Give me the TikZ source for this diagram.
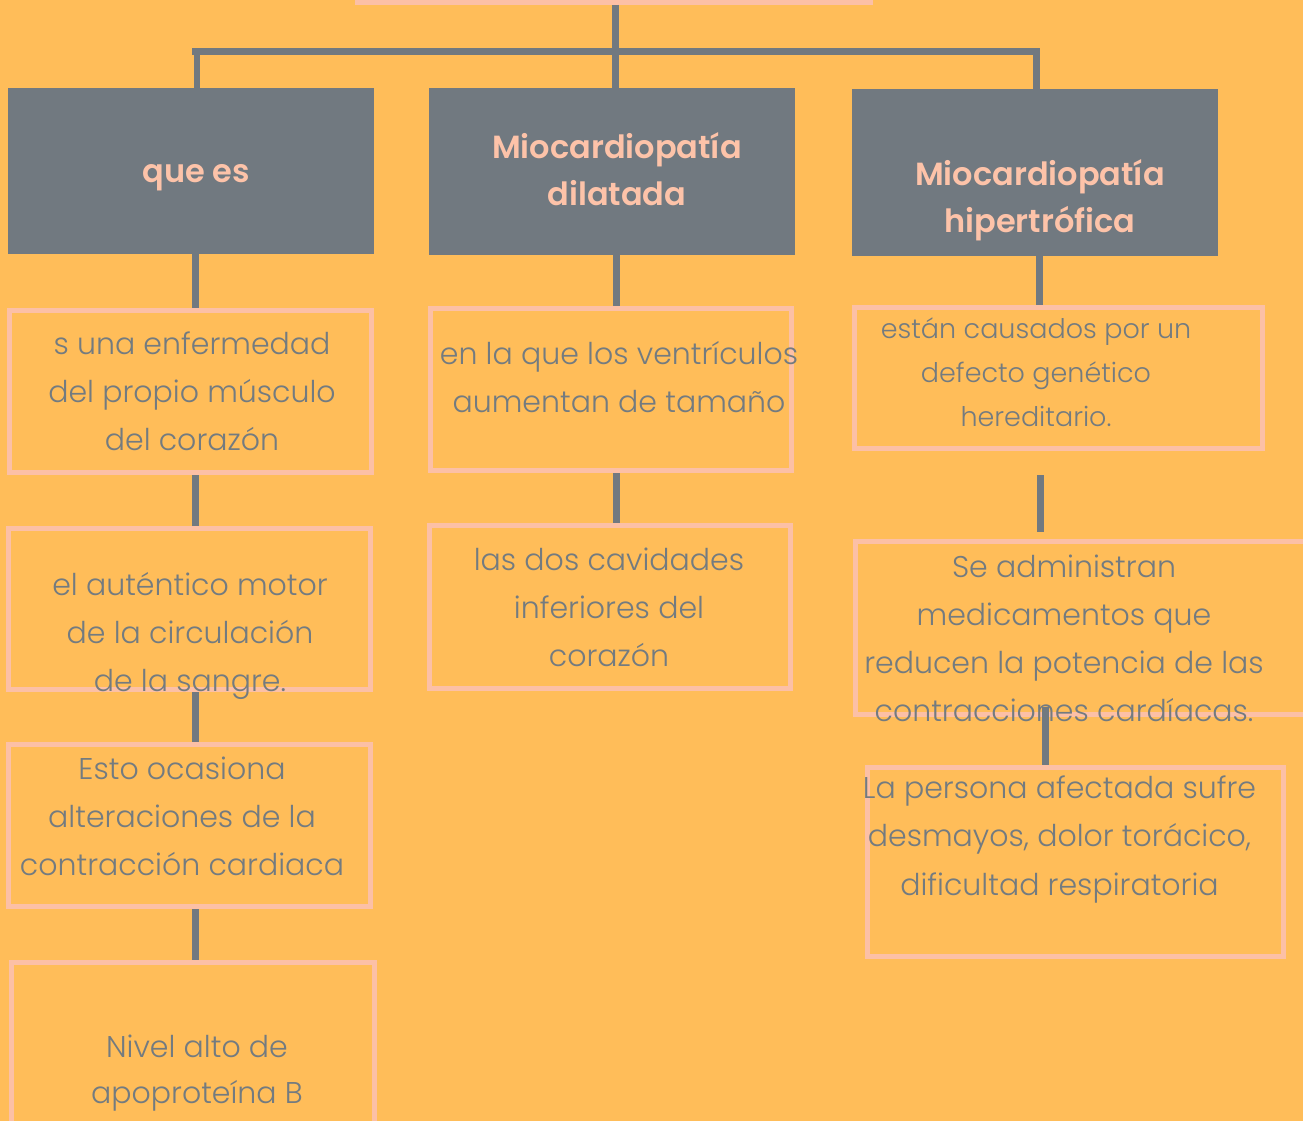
\documentclass[tikz,border=0pt]{standalone}
\usepackage{fontspec}
\setmainfont{Poppins}[UprightFont=* Light, BoldFont=* SemiBold]
\definecolor{bg}{HTML}{FFBD59}
\definecolor{gr}{HTML}{717980}
\definecolor{pk}{HTML}{FCC0A6}
\definecolor{tx}{HTML}{737B80}
\definecolor{hx}{HTML}{FDC3A9}
\begin{document}
\begin{tikzpicture}[x=1pt,y=-1pt,
  hdr/.style={fill=gr, inner sep=0pt, outer sep=0pt, minimum width=366, minimum height=166},
  pbox/.style={draw=pk, line width=5pt, inner sep=0pt},
  htxt/.style={text=hx, font=\fontsize{32}{47}\selectfont\bfseries, align=center, inner sep=0pt, anchor=base},
  btxt/.style={text=tx, font=\fontsize{30}{48}\selectfont, align=center, inner sep=0pt, anchor=base},
  conn/.style={draw=gr, line width=7pt}]
\useasboundingbox (0,0) rectangle (1303,1121);
\fill[bg] (0,0) rectangle (1303,1121);
\clip (0,0) rectangle (1303,1121);

% top box (only its bottom edge shows)
\node[pbox, minimum width=513, minimum height=100] (top) at (614,-47.5) {};

% header boxes
\node[hdr] (h1) at (191,171) {};
\node[hdr, minimum height=167] (h2) at (612,171.5) {};
\node[hdr, minimum height=167] (h3) at (1035,172.5) {};

% pink boxes
\node[pbox, minimum width=362, minimum height=162] (t1) at (190.5,391.5) {};
\node[pbox, minimum width=362, minimum height=161] (t2) at (189.5,609) {};
\node[pbox, minimum width=362, minimum height=162] (t3) at (189.5,825.5) {};
\node[pbox, minimum width=363, minimum height=165] (t4) at (193,1045) {};
\node[pbox, minimum width=361, minimum height=162] (m1) at (611,389.5) {};
\node[pbox, minimum width=361, minimum height=163] (m2) at (610,607) {};
\node[pbox, minimum width=408, minimum height=141] (r1) at (1058.5,378) {};
\node[pbox, minimum width=452, minimum height=173] (r2) at (1081.5,628) {};
\node[pbox, minimum width=416, minimum height=189] (r3) at (1075.5,862) {};

% header texts (anchor = baseline of the last line)
\node[htxt] (h1t) at (196,182) {que es};
\node[htxt] (h2t) at (617,205) {Miocardiopatía\\dilatada};
\node[htxt] (h3t) at (1040,232) {Miocardiopatía\\hipertrófica};

% body texts (anchor = baseline of the last line)
\node[btxt] (t1t) at (192,450) {s una enfermedad\\del propio músculo\\del corazón};
\node[btxt] (t2t) at (190,691) {el auténtico motor\\de la circulación\\de la sangre.};
\node[btxt] (t3t) at (182,875) {Esto ocasiona\\alteraciones de la\\contracción cardiaca};
\node[btxt, font=\fontsize{30}{46}\selectfont] (t4t) at (197,1103) {Nivel alto de\\apoproteína B};
\node[btxt] (m1t) at (619,412) {en la que los ventrículos\\aumentan de tamaño};
\node[btxt] (m2t) at (609,666) {las dos cavidades\\inferiores del\\corazón};
\node[btxt, font=\fontsize{27}{44}\selectfont] (r1t) at (1036,426) {están causados por un\\defecto genético\\hereditario.};
\node[btxt] (r2t) at (1064,721) {Se administran\\medicamentos que\\reducen la potencia de las\\contracciones cardíacas.};
\node[btxt, font=\fontsize{30}{48.5}\selectfont] (r3t) at (1059.5,895) {La persona afectada sufre\\desmayos, dolor torácico,\\dificultad respiratoria};

% top tree
\coordinate (jm) at (615.5,51.5);
\coordinate (jl) at (197,51.5);
\coordinate (jr) at (1036,51.5);
\draw[conn] (top.south -| jm) -- (jm);
\draw[conn] ([xshift=-5pt]jl) -- ([xshift=4pt]jr);
\draw[conn, line width=6pt] (jl) -- (jl |- h1.north);
\draw[conn] (jm) -- (jm |- h2.north);
\draw[conn] (jr) -- (jr |- h3.north);

% vertical connectors
\coordinate (c1) at ([xshift=4.5pt]h1.south);
\draw[conn] (c1) -- (c1 |- t1.north);
\coordinate (c2) at ([xshift=5pt]t1.south);
\draw[conn] (c2) -- (c2 |- t2.north);
\coordinate (c3) at ([xshift=6pt]t2.south);
\draw[conn] (c3) -- (c3 |- t3.north);
\coordinate (c4) at ([xshift=6pt]t3.south);
\draw[conn] (c4) -- (c4 |- t4.north);
\coordinate (c5) at ([xshift=4.5pt]h2.south);
\draw[conn] (c5) -- (c5 |- m1.north);
\coordinate (c6) at ([xshift=5.5pt]m1.south);
\draw[conn] (c6) -- (c6 |- m2.north);
\coordinate (c7) at ([xshift=4.5pt]h3.south);
\draw[conn] (c7) -- (c7 |- r1.north);
\coordinate (c8a) at ([xshift=-18.5pt,yshift=-24pt]r1.south);
\coordinate (c8b) at ([yshift=7pt]r2.north);
\draw[conn] (c8a) -- (c8a |- c8b);
\coordinate (c9) at ([xshift=-36pt,yshift=10pt]r2.south);
\draw[conn] (c9) -- (c9 |- r3.north);
\end{tikzpicture}
\end{document}
